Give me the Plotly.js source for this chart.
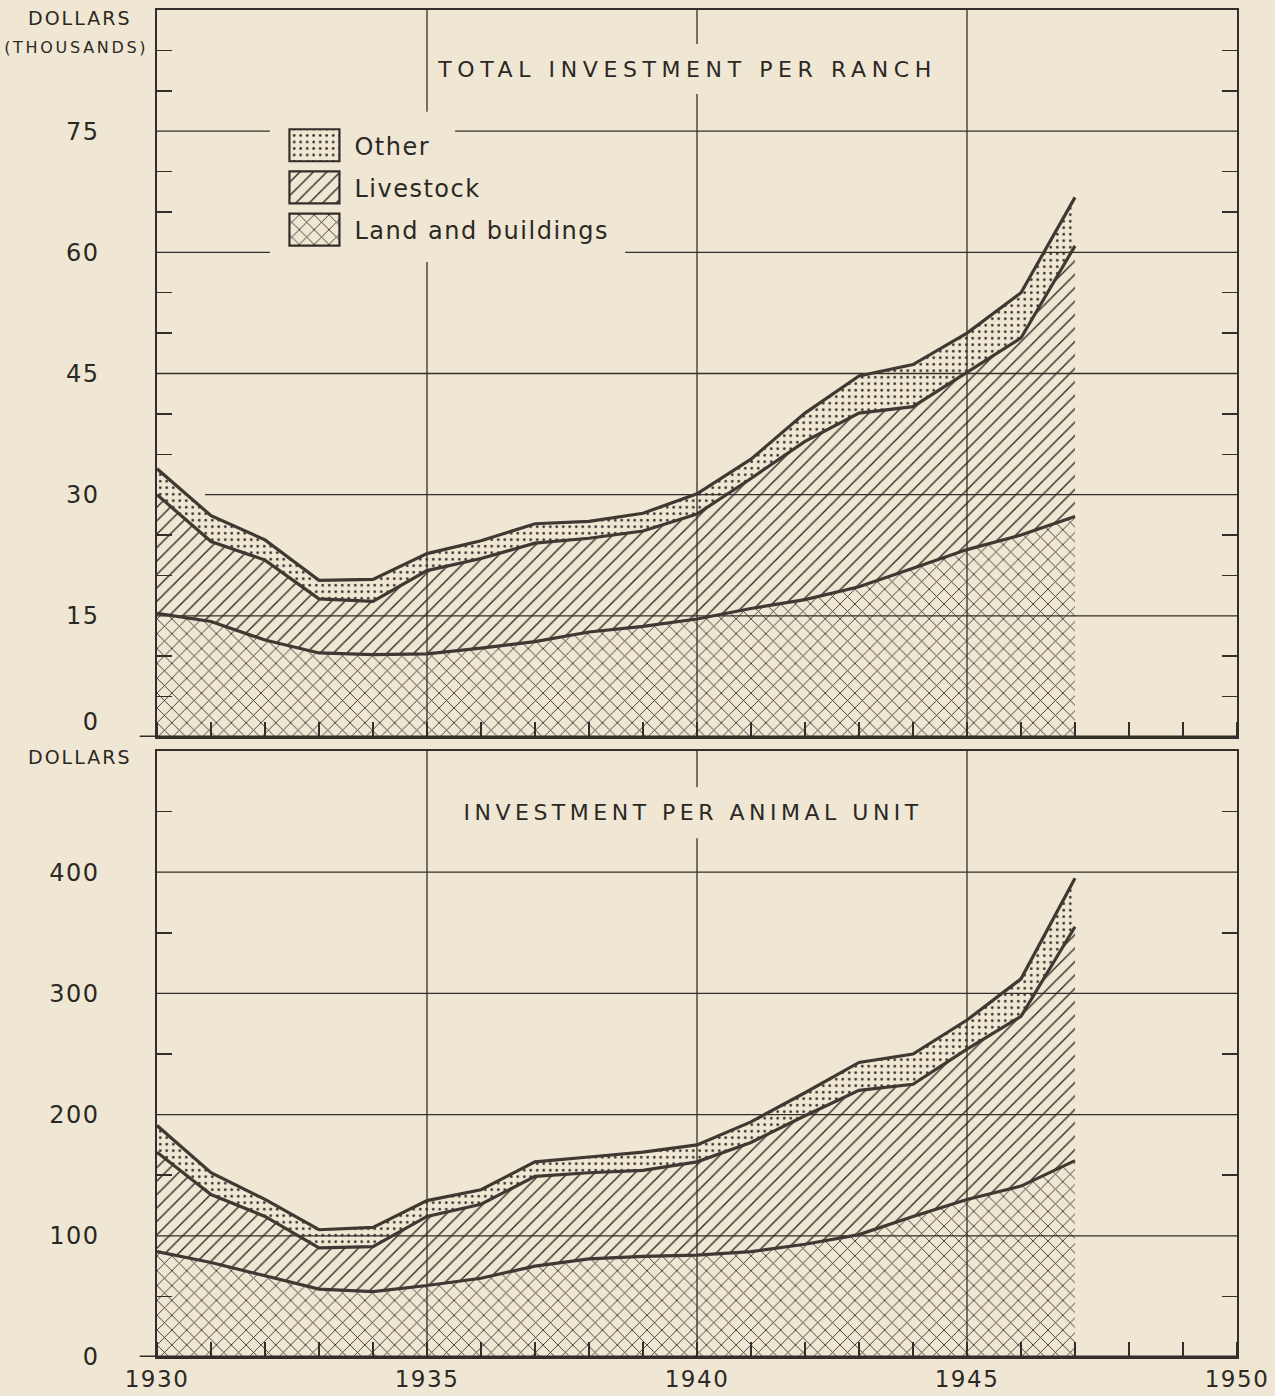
<!DOCTYPE html>
<html>
<head>
<meta charset="utf-8">
<script src="https://cdn.plot.ly/plotly-3.0.1.min.js"></script>
<style>
  html, body { margin: 0; padding: 0; background: #eee6d1; }
  #chart { width: 1275px; height: 1396px; }
  .xtick text, .x2tick text, .ytick text, .y2tick text { letter-spacing: 1.5px; }
  .legendtext { letter-spacing: 1.5px; }
  g.annotation[data-index="0"] text { letter-spacing: 5.6px; }
  g.annotation[data-index="1"] text { letter-spacing: 4.5px; }
  g.annotation[data-index="2"] text, g.annotation[data-index="4"] text { letter-spacing: 2px; }
  g.annotation[data-index="3"] text { letter-spacing: 2.7px; }
</style>
</head>
<body>
<div id="chart"></div>
<script>
// ---- data ----
const years = [1930,1931,1932,1933,1934,1935,1936,1937,1938,1939,1940,1941,1942,1943,1944,1945,1946,1947];

// Total investment per ranch, thousands of dollars
const ranchLand      = [15.3,14.3,12.0,10.4,10.2,10.3,11.0,11.8,13.0,13.7,14.6,15.9,17.0,18.6,20.9,23.2,25.0,27.3];
const ranchLivestock = [14.7, 9.9, 9.9, 6.7, 6.6,10.3,11.1,12.2,11.6,11.8,13.0,16.1,19.6,21.5,20.0,21.9,24.4,33.5];
const ranchOther     = [ 3.2, 3.2, 2.5, 2.3, 2.7, 2.1, 2.2, 2.4, 2.1, 2.2, 2.5, 2.4, 3.5, 4.6, 5.2, 4.9, 5.6, 6.0];

// Investment per animal unit, dollars
const unitLand      = [87,78,67,56,54,59,65,75,81,83,84,87,93,101,116,130,141,162];
const unitLivestock = [82,56,49,34,37,57,61,74,71,71,77,90,106,119,109,124,140,193];
const unitOther     = [22,18,14,15,16,13,12,12,13,15,14,17,19,23,25,24,31,40];

const seriesNames = ['Land and buildings', 'Livestock', 'Other'];

// tick values / labels
const ranchTicks = [0,15,30,45,60,75];
const ranchTickText = ['0<br> ','15','30','45','60','75'];
const ranchMinorTicks = [5,10,20,25,35,40,50,55,65,70,80,85];
const unitTicks = [0,100,200,300,400];
const unitMinorTicks = [50,150,250,350,450];
const yearTicks = [1930,1935,1940,1945,1950];

// ---- styling ----
const BG = '#efe7d3';
const LC = '#332e29';
const CURVE = '#3f3934';
const TXT = '#2c2824';
const FONT = 'DejaVu Sans';

const patterns = [
  {shape: 'x', size: 10.5, solidity: 0.16},
  {shape: '/', size: 9.5, solidity: 0.15},
  {shape: '.', size: 6.5, solidity: 0.14}
];
const legendRanks = [3, 2, 1];

function makeTraces(vals, xa, ya, group, showLegend) {
  return vals.map(function(v, i) {
    return {
      type: 'scatter', mode: 'lines', x: years, y: v,
      xaxis: xa, yaxis: ya, stackgroup: group,
      name: seriesNames[i], legendgroup: 'g' + i, legendrank: legendRanks[i], showlegend: showLegend,
      line: {color: CURVE, width: 3.2, shape: 'linear'},
      fillcolor: 'rgba(0,0,0,0)',
      fillpattern: {shape: patterns[i].shape, size: patterns[i].size, solidity: patterns[i].solidity,
                    fgcolor: LC, bgcolor: 'rgba(0,0,0,0)', fillmode: 'replace'},
      hoverinfo: 'skip'
    };
  });
}

const traces = makeTraces([ranchLand, ranchLivestock, ranchOther], 'x', 'y', 'ranch', true)
  .concat(makeTraces([unitLand, unitLivestock, unitOther], 'x2', 'y2', 'unit', false));

// grid segments (layout decoration, with gaps as in the original)
const gridLine = {color: LC, width: 1.3};
function hseg(xr, yr, v, a, b) { return {type:'line', layer:'below', xref:xr, yref:yr, x0:a, x1:b, y0:v, y1:v, line:gridLine}; }
function vseg(xr, yr, v, a, b) { return {type:'line', layer:'below', xref:xr, yref:yr, x0:v, x1:v, y0:a, y1:b, line:gridLine}; }

const shapes = [
  hseg('x','y',15,1930,1950),
  hseg('x','y',30,1930.89,1950),
  hseg('x','y',45,1930,1950),
  hseg('x','y',60,1930,1932.09), hseg('x','y',60,1938.67,1950),
  hseg('x','y',75,1930,1932.09), hseg('x','y',75,1935.52,1950),
  vseg('x','y',1935,0,58.8), vseg('x','y',1935,77.4,90),
  vseg('x','y',1940,0,79.6), vseg('x','y',1940,85.8,90),
  vseg('x','y',1945,0,90),
  hseg('x2','y2',100,1930,1950), hseg('x2','y2',200,1930,1950),
  hseg('x2','y2',300,1930,1950), hseg('x2','y2',400,1930,1950),
  vseg('x2','y2',1935,0,500),
  vseg('x2','y2',1940,0,428), vseg('x2','y2',1940,470,500),
  vseg('x2','y2',1945,0,500),
  // heavy base lines extending left of the frame
  {type:'line', xref:'paper', yref:'y', x0:-0.016, x1:1, y0:0, y1:0, line:{color:LC, width:3}},
  {type:'line', xref:'paper', yref:'y2', x0:-0.016, x1:1, y0:0, y1:0, line:{color:LC, width:3}}
];

function xAxis(anchor, labels) {
  return {
    anchor: anchor, domain: [0, 1], range: [1930, 1950],
    tickmode: 'array', tickvals: yearTicks, ticktext: yearTicks.map(String),
    ticks: '', showticklabels: labels, ticklabelstandoff: 1,
    tickfont: {family: FONT, size: 23, color: TXT},
    showgrid: false, zeroline: false,
    showline: true, mirror: true, linecolor: LC, linewidth: 1.6,
    minor: {ticks: 'inside', dtick: 1, tick0: 1930, ticklen: 15, tickwidth: 1.5, tickcolor: LC, showgrid: false}
  };
}
function yAxis(anchor, domain, range, ticks, text, minor) {
  return {
    anchor: anchor, domain: domain, range: range,
    tickmode: 'array', tickvals: ticks, ticktext: text,
    ticks: '', ticklabelstandoff: 51,
    tickfont: {family: FONT, size: 24, color: TXT},
    showgrid: false, zeroline: false,
    showline: true, mirror: 'ticks', linecolor: LC, linewidth: 1.6,
    minor: {ticks: 'inside', tickvals: minor, ticklen: 15, tickwidth: 1.5, tickcolor: LC, showgrid: false}
  };
}

const layout = {
  width: 1275, height: 1396,
  margin: {l: 157, r: 38, t: 10, b: 39, pad: 0},
  paper_bgcolor: BG, plot_bgcolor: 'rgba(0,0,0,0)',
  font: {family: FONT, color: TXT},
  showlegend: true,
  legend: {x: 0.118, xanchor: 'left', y: 0.916, yanchor: 'top', bgcolor: 'rgba(0,0,0,0)',
           font: {family: FONT, size: 24, color: TXT}, itemwidth: 60,
           traceorder: 'grouped', tracegroupgap: 8, itemclick: false, itemdoubleclick: false},
  xaxis: xAxis('y', false),
  yaxis: yAxis('x', [0.4603, 1], [0, 90], ranchTicks, ranchTickText, ranchMinorTicks),
  xaxis2: xAxis('y2', true),
  yaxis2: yAxis('x2', [0, 0.4499], [0, 500], unitTicks, unitTicks.map(String), unitMinorTicks),
  shapes: shapes,
  annotations: [
    {text: 'TOTAL INVESTMENT PER RANCH', xref: 'paper', yref: 'paper', x: 0.491, y: 0.9555,
     xanchor: 'center', yanchor: 'middle', showarrow: false, font: {family: FONT, size: 22, color: TXT}},
    {text: 'INVESTMENT PER ANIMAL UNIT', xref: 'paper', yref: 'paper', x: 0.497, y: 0.4046,
     xanchor: 'center', yanchor: 'middle', showarrow: false, font: {family: FONT, size: 22, color: TXT}},
    {text: 'DOLLARS', xref: 'paper', yref: 'paper', x: -0.0713, y: 0.994,
     xanchor: 'center', yanchor: 'middle', showarrow: false, font: {family: FONT, size: 19, color: TXT}},
    {text: '(THOUSANDS)', xref: 'paper', yref: 'paper', x: -0.075, y: 0.9725,
     xanchor: 'center', yanchor: 'middle', showarrow: false, font: {family: FONT, size: 16, color: TXT}},
    {text: 'DOLLARS', xref: 'paper', yref: 'paper', x: -0.0713, y: 0.4454,
     xanchor: 'center', yanchor: 'middle', showarrow: false, font: {family: FONT, size: 19, color: TXT}}
  ]
};

function fixLegend() {
  document.querySelectorAll('.legend .traces').forEach(function(g) {
    var f = g.querySelector('.legendfill path');
    if (f) f.setAttribute('d', 'M5,-16h50v32h-50z');
    var l = g.querySelector('.legendlines path');
    if (l) { l.setAttribute('d', 'M5,-16h50v32h-50z'); l.style.fill = 'none'; l.style.strokeWidth = '2.2px'; l.style.stroke = LC; }
  });
}

const gd = document.getElementById('chart');
Plotly.newPlot(gd, traces, layout, {staticPlot: true, displayModeBar: false}).then(function() {
  fixLegend();
  gd.on && gd.on('plotly_afterplot', fixLegend);
});
</script>
</body>
</html>
